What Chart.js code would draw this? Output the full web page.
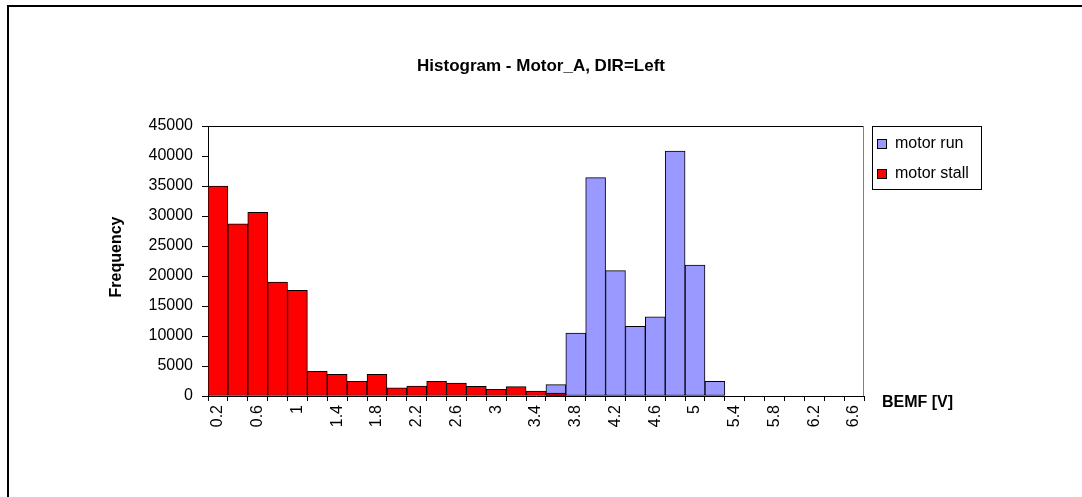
<!DOCTYPE html>
<html>
<head>
<meta charset="utf-8">
<script src="https://cdn.jsdelivr.net/npm/chart.js@4/dist/chart.umd.min.js"></script>
<style>
  html, body { margin: 0; padding: 0; background: #fff; }
  #wrap { position: relative; width: 1082px; height: 497px; }
</style>
</head>
<body>
<div id="wrap"><canvas id="chart" width="1082" height="497"></canvas></div>
<script>
// Bin labels (BEMF [V])
const categories = ['0.2', '0.4', '0.6', '0.8', '1', '1.2', '1.4', '1.6', '1.8', '2', '2.2',
  '2.4', '2.6', '2.8', '3', '3.2', '3.4', '3.6', '3.8', '4', '4.2', '4.4', '4.6', '4.8', '5',
  '5.2', '5.4', '5.6', '5.8', '6', '6.2', '6.4', '6.6'];

// Frequencies
const motorRun = [0, 0, 0, 0, 0, 0, 0, 0, 0, 0, 0, 0, 0, 0, 0, 0, 0,
  1900, 10500, 36400, 20900, 11600, 13200, 40800, 21800, 2450,
  0, 0, 0, 0, 0, 0, 0];
const motorStall = [35000, 28700, 30600, 19000, 17600, 4100, 3600, 2450, 3600, 1350, 1650,
  2450, 2150, 1600, 1100, 1550, 800, 500,
  0, 0, 0, 0, 0, 0, 0, 0, 0, 0, 0, 0, 0, 0, 0];

const yTicks = [0, 5000, 10000, 15000, 20000, 25000, 30000, 35000, 40000, 45000];

const FONT = '"Liberation Sans", Arial, sans-serif';

// Titulos, marco y leyenda dibujados a mano
const decorations = {
  id: 'decorations',
  afterDraw: (chart) => {
    const ctx = chart.ctx;
    const area = chart.chartArea;
    ctx.save();

    // marco exterior
    ctx.strokeStyle = '#000';
    ctx.lineWidth = 2;
    ctx.strokeRect(8, 6, 2000, 2000);

    // borde del area de trazado
    ctx.lineWidth = 1;
    ctx.beginPath();
    ctx.moveTo(area.left, area.top + 0.5);
    ctx.lineTo(area.right, area.top + 0.5);
    ctx.stroke();
    ctx.strokeStyle = '#808080';
    ctx.beginPath();
    ctx.moveTo(area.right - 0.5, area.top);
    ctx.lineTo(area.right - 0.5, area.bottom);
    ctx.stroke();

    ctx.fillStyle = '#000';
    // titulo
    ctx.font = 'bold 17px ' + FONT;
    ctx.textAlign = 'center';
    ctx.textBaseline = 'alphabetic';
    ctx.fillText('Histogram - Motor_A, DIR=Left', 541, 71);

    // titulo eje x
    ctx.font = 'bold 16px ' + FONT;
    ctx.textAlign = 'left';
    ctx.textBaseline = 'middle';
    ctx.fillText('BEMF [V]', 882, 403);

    // titulo eje y
    ctx.save();
    ctx.translate(117, 257);
    ctx.rotate(-Math.PI / 2);
    ctx.textAlign = 'center';
    ctx.fillText('Frequency', 0, 0);
    ctx.restore();

    // leyenda
    ctx.strokeStyle = '#000';
    ctx.strokeRect(872.5, 126.5, 109, 63);
    ctx.font = '16px ' + FONT;
    ctx.textAlign = 'left';
    chart.data.datasets.forEach((ds, i) => {
      const y = 144 + i * 30;
      ctx.fillStyle = ds.backgroundColor;
      ctx.fillRect(877, y - 4.5, 9, 9);
      ctx.strokeRect(877.5, y - 4.5, 9, 9);
      ctx.fillStyle = '#000';
      ctx.fillText(ds.label, 895, y);
    });

    ctx.restore();
  }
};

new Chart(document.getElementById('chart'), {
  type: 'bar',
  data: {
    labels: categories,
    datasets: [
      {
        label: 'motor run',
        data: motorRun,
        backgroundColor: '#9999FF',
        borderColor: '#000',
        borderWidth: 1,
        borderSkipped: false,
        grouped: false,
        order: 2
      },
      {
        label: 'motor stall',
        data: motorStall,
        backgroundColor: '#FF0000',
        borderColor: '#000',
        borderWidth: 1,
        borderSkipped: false,
        grouped: false,
        order: 1
      }
    ]
  },
  options: {
    responsive: false,
    animation: false,
    layout: { padding: { left: 0, top: 126, right: 218, bottom: 0 } },
    datasets: { bar: { barPercentage: 1, categoryPercentage: 1 } },
    plugins: {
      legend: { display: false },
      title: { display: false },
      tooltip: { enabled: false }
    },
    scales: {
      x: {
        afterFit: (scale) => { scale.height = 101; },
        border: { color: '#000', width: 1 },
        grid: { offset: true, drawOnChartArea: false, color: '#000', tickLength: 5 },
        ticks: {
          autoSkip: false,
          minRotation: 90,
          maxRotation: 90,
          padding: 4,
          color: '#000',
          font: { family: FONT, size: 16 },
          callback: (value, index) => (index % 2 === 0 ? categories[index] : '')
        }
      },
      y: {
        min: 0,
        max: yTicks[yTicks.length - 1],
        afterFit: (scale) => { scale.width = 208; },
        afterBuildTicks: (scale) => { scale.ticks = yTicks.map(v => ({ value: v })); },
        border: { color: '#000', width: 1 },
        grid: { drawOnChartArea: false, color: '#000', tickLength: 6 },
        ticks: {
          padding: 9,
          color: '#000',
          font: { family: FONT, size: 16 },
          callback: (value) => String(value)
        }
      }
    }
  },
  plugins: [decorations]
});
</script>
</body>
</html>
